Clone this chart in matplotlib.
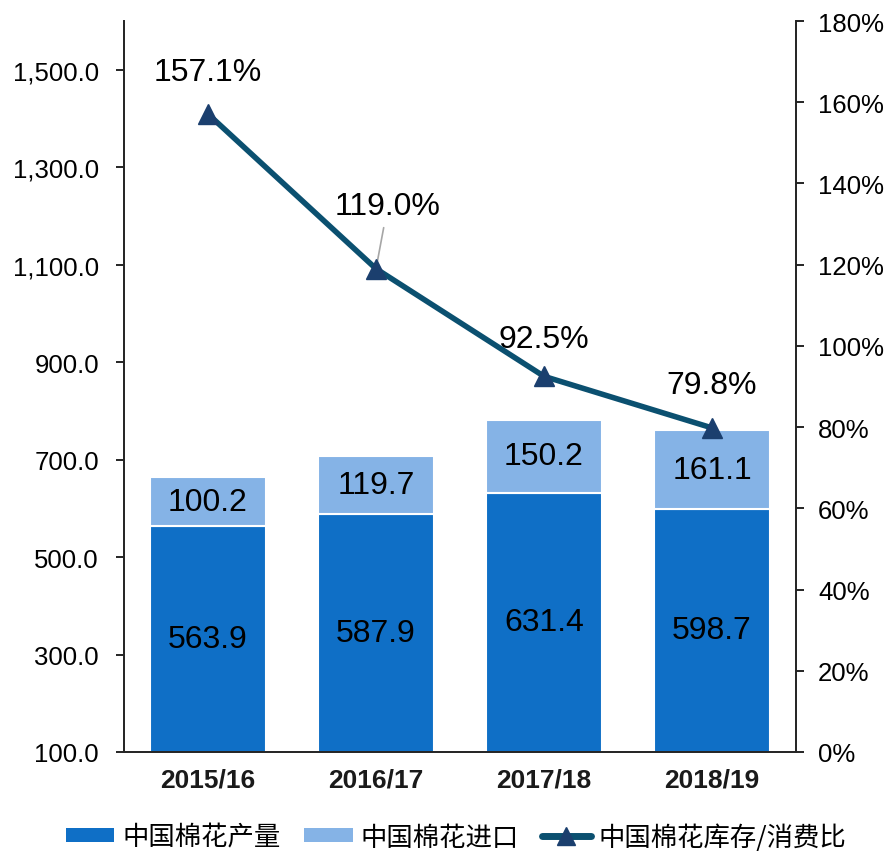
import matplotlib
matplotlib.use("Agg")
import matplotlib.pyplot as plt
from matplotlib.lines import Line2D
from matplotlib.patches import Patch
from matplotlib.ticker import FuncFormatter

categories = ["2015/16", "2016/17", "2017/18", "2018/19"]
production = [563.9, 587.9, 631.4, 598.7]
imports = [100.2, 119.7, 150.2, 161.1]
ratio = [157.1, 119.0, 92.5, 79.8]
legend_labels = ["中国棉花产量", "中国棉花进口", "中国棉花库存/消费比"]

plt.rcParams['font.family'] = ['Liberation Sans', 'Noto Sans CJK SC', 'DejaVu Sans']

c_prod = "#0F6FC6"
c_imp = "#85B3E6"
c_line = "#0B5070"
c_mark = "#1B3F6E"

fig = plt.figure(figsize=(8.89, 8.54), dpi=100)
ax = fig.add_axes([0.1395, 0.1183, 0.7559, 0.8559])
ax2 = ax.twinx()

x = list(range(len(categories)))
ymin, ymax = 100, 1600
ax.bar(x, production, width=0.69, color=c_prod, edgecolor="white", linewidth=1.5, zorder=2)
ax.bar(x, imports, width=0.69, bottom=production, color=c_imp, edgecolor="white", linewidth=1.5, zorder=2)
ax.set_ylim(ymin, ymax)
ax.set_xlim(-0.5, 3.5)
ax.set_yticks(range(100, 1600, 200))
ax.yaxis.set_major_formatter(FuncFormatter(lambda v, p: f"{v:,.1f}"))
ax.set_xticks(x)
ax.set_xticklabels(categories, fontsize=19, fontweight="bold", color="#1a1a1a")
ax.tick_params(axis="x", length=0, pad=11)
ax.tick_params(axis="y", labelsize=18.5, length=6, width=1.2, direction="out", pad=12)

for i in x:
    ax.text(i, (ymin + production[i]) / 2, f"{production[i]:.1f}", ha="center", va="center", fontsize=23, color="black", zorder=4)
    ax.text(i, production[i] + imports[i] / 2, f"{imports[i]:.1f}", ha="center", va="center", fontsize=23, color="black", zorder=4)

ax2.plot(x, ratio, color=c_line, linewidth=4, zorder=3)
ax2.plot(x, ratio, linestyle="none", marker="^", markersize=15, color=c_mark, zorder=4)
ax2.set_ylim(0, 180)
ax2.set_yticks(range(0, 181, 20))
ax2.yaxis.set_major_formatter(FuncFormatter(lambda v, p: f"{v:.0f}%"))
ax2.tick_params(axis="y", labelsize=18.5, length=6, width=1.2, direction="out", pad=10)

offsets = [30, 0, 27, 31]
for i in x:
    if i == 1:
        ax2.annotate(f"{ratio[i]:.1f}%", xy=(i, ratio[i]), xytext=(i + 0.07, ratio[i] + 15.5),
                     ha="center", va="center", fontsize=23,
                     arrowprops=dict(arrowstyle="-", color="#A6A6A6", lw=1.2, shrinkA=3, shrinkB=2))
    else:
        ax2.annotate(f"{ratio[i]:.1f}%", xy=(i, ratio[i]), xytext=(0, offsets[i]),
                     textcoords="offset points", ha="center", va="center", fontsize=23)

for a in (ax, ax2):
    a.spines["top"].set_visible(False)
    for s in ("left", "right", "bottom"):
        a.spines[s].set_linewidth(1.3)
        a.spines[s].set_color("#262626")

handles = [Patch(facecolor=c_prod), Patch(facecolor=c_imp),
           Line2D([0], [0], color=c_line, linewidth=5, marker="^", markersize=13,
                  markerfacecolor=c_mark, markeredgecolor=c_mark, solid_capstyle="round")]
fig.legend(handles, legend_labels, loc="center", bbox_to_anchor=(0.513, 0.019), ncol=3,
           frameon=False, handlelength=1.85, handleheight=0.42, columnspacing=0.88,
           handletextpad=0.3, borderpad=0.2,
           prop={'family': ['Noto Sans CJK SC', 'DejaVu Sans'], 'size': 19})

fig.savefig("out.png", dpi=100)
